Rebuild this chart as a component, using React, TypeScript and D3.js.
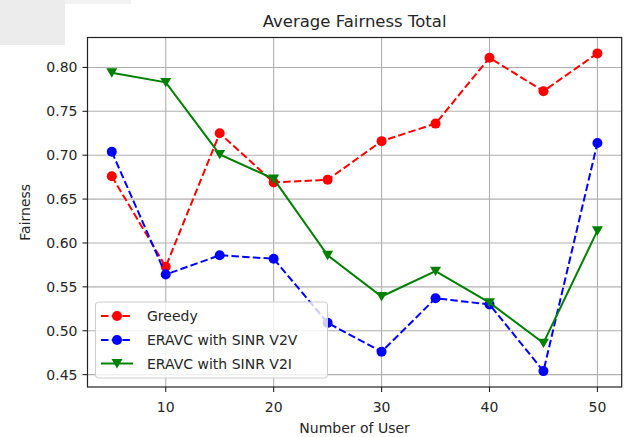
import React from "react";
import * as d3 from "d3";

const users = [5, 10, 15, 20, 25, 30, 35, 40, 45, 50];
const greedy = [0.676, 0.573, 0.725, 0.669, 0.672, 0.716, 0.736, 0.811, 0.773, 0.816];
const v2v = [0.704, 0.564, 0.586, 0.582, 0.509, 0.476, 0.537, 0.530, 0.454, 0.714];
const v2i = [0.794, 0.783, 0.701, 0.673, 0.586, 0.539, 0.568, 0.532, 0.486, 0.614];
const xTicks = [10, 20, 30, 40, 50];
const yTicks = [0.45, 0.5, 0.55, 0.6, 0.65, 0.7, 0.75, 0.8];
const seriesNames = ["Greedy", "ERAVC with SINR V2V", "ERAVC with SINR V2I"];

const W = 629, H = 437;
const L = 87.5, R = 621.7, T = 37.5, B = 387;
const FONT = "DejaVu Sans, sans-serif";
const FS = 14;

export default function App() {
  const x = d3.scaleLinear().domain([2.75, 52.25]).range([L, R]);
  const all = [...greedy, ...v2v, ...v2i];
  const mn = d3.min(all)!, mx = d3.max(all)!;
  const pad = (mx - mn) * 0.05;
  const y = d3.scaleLinear().domain([mn - pad, mx + pad]).range([B, T]);
  const line = d3.line<number>().x((_, i) => x(users[i])).y((d) => y(d));

  const series = [
    { name: seriesNames[0], data: greedy, color: "#ff0000", dash: "7.5,3.2", marker: "o" },
    { name: seriesNames[1], data: v2v, color: "#0000ff", dash: "7.5,3.2", marker: "o" },
    { name: seriesNames[2], data: v2i, color: "#008000", dash: "", marker: "v" },
  ];

  const tri = (cx: number, cy: number, s: number) =>
    `M${cx - s},${cy - s * 0.8}L${cx + s},${cy - s * 0.8}L${cx},${cy + s * 0.9}Z`;

  const marker = (m: string, cx: number, cy: number, color: string, key: any) =>
    m === "o" ? (
      <circle key={key} cx={cx} cy={cy} r={5} fill={color} />
    ) : (
      <path key={key} d={tri(cx, cy, 5.5)} fill={color} />
    );

  const legX = 95.5, legY = 302, legW = 232, legH = 76;
  const rowY = [316, 340, 363.5];

  return (
    <svg width={W} height={H} style={{ position: "absolute", left: 0, top: 0, background: "#fff" }}>
      <rect x={0} y={0} width={W} height={H} fill="#fff" />
      <rect x={0} y={0} width={65} height={45} fill="#ececec" />
      <rect x={65} y={0} width={66} height={4} fill="#f2f2f2" />
      {/* grid */}
      {xTicks.map((t) => (
        <line key={"gx" + t} x1={x(t)} x2={x(t)} y1={T} y2={B} stroke="#b0b0b0" strokeWidth={1.1} />
      ))}
      {yTicks.map((t) => (
        <line key={"gy" + t} x1={L} x2={R} y1={y(t)} y2={y(t)} stroke="#b0b0b0" strokeWidth={1.1} />
      ))}
      {/* series */}
      {series.map((s, si) => (
        <g key={si}>
          <path d={line(s.data)!} fill="none" stroke={s.color} strokeWidth={2} strokeDasharray={s.dash || undefined} />
          {s.data.map((d, i) => marker(s.marker, x(users[i]), y(d), s.color, i))}
        </g>
      ))}
      {/* frame */}
      <rect x={L} y={T} width={R - L} height={B - T} fill="none" stroke="#222" strokeWidth={1.2} />
      {/* ticks */}
      {xTicks.map((t) => (
        <g key={"tx" + t}>
          <line x1={x(t)} x2={x(t)} y1={B} y2={B + 5} stroke="#222" strokeWidth={1.1} />
          <text x={x(t)} y={412} textAnchor="middle" fontFamily={FONT} fontSize={FS} fill="#262626">
            {t}
          </text>
        </g>
      ))}
      {yTicks.map((t) => (
        <g key={"ty" + t}>
          <line x1={L - 5} x2={L} y1={y(t)} y2={y(t)} stroke="#222" strokeWidth={1.1} />
          <text x={L - 10} y={y(t) + 5} textAnchor="end" fontFamily={FONT} fontSize={FS} fill="#262626">
            {t.toFixed(2)}
          </text>
        </g>
      ))}
      {/* labels */}
      <text x={(L + R) / 2} y={27} textAnchor="middle" fontFamily={FONT} fontSize={16.5} fill="#262626">
        Average Fairness Total
      </text>
      <text x={(L + R) / 2} y={433} textAnchor="middle" fontFamily={FONT} fontSize={FS} fill="#262626">
        Number of User
      </text>
      <text
        transform={`translate(30,${(T + B) / 2}) rotate(-90)`}
        textAnchor="middle"
        fontFamily={FONT}
        fontSize={FS}
        fill="#262626"
      >
        Fairness
      </text>
      {/* legend */}
      <rect x={legX} y={legY} width={legW} height={legH} rx={3} fill="#fff" fillOpacity={0.8} stroke="#cccccc" strokeWidth={1} />
      {series.map((s, i) => (
        <g key={"lg" + i}>
          <line x1={101} x2={133} y1={rowY[i]} y2={rowY[i]} stroke={s.color} strokeWidth={2} strokeDasharray={s.dash || undefined} />
          {marker(s.marker, 117, rowY[i], s.color, "m")}
          <text x={147} y={rowY[i] + 5} fontFamily={FONT} fontSize={FS} fill="#262626">
            {s.name}
          </text>
        </g>
      ))}
    </svg>
  );
}
